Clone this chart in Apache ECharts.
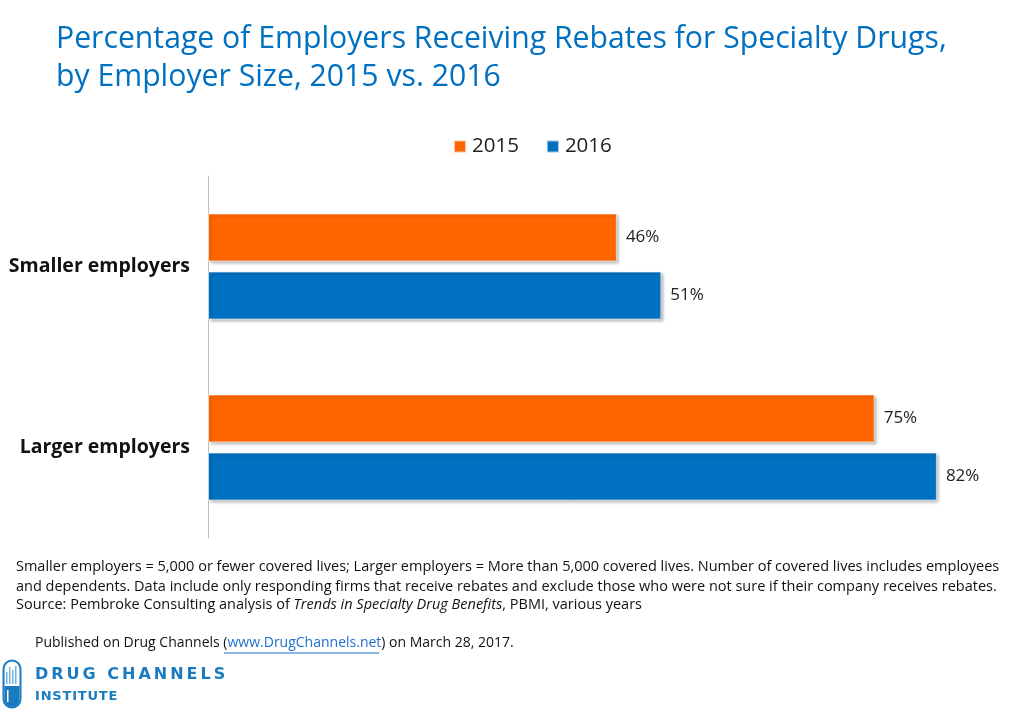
<!DOCTYPE html>
<html>
<head>
<meta charset="utf-8">
<script src="https://cdn.jsdelivr.net/npm/echarts@6/dist/echarts.min.js"></script>
<style>
html,body{margin:0;padding:0;background:#fff;}
#main{width:1024px;height:709px;}
</style>
</head>
<body>
<div id="main"></div>
<script>
const categories = ['Smaller employers', 'Larger employers'];
const seriesNames = ['2015', '2016'];
const values2015 = [46, 75];
const values2016 = [51, 82];
const seriesColors = ['#FF6600', '#0070C0'];

const FONT = 'Open Sans';
const LOGO_BLUE = '#1A7BC0';
const chart = echarts.init(document.getElementById('main'), null, {renderer: 'canvas'});

// letter-spaced logo text, positions from measured glyph widths
const measureCtx = document.createElement('canvas').getContext('2d');
function spacedText(str, x, y, size, spacing) {
  const font = 'bold ' + size + 'px "DejaVu Sans"';
  measureCtx.font = font;
  const out = [];
  let cx = x;
  for (const ch of str) {
    out.push({
      type: 'text', x: cx, y: y,
      style: {text: ch, fontFamily: 'DejaVu Sans', fontWeight: 'bold', fontSize: size, fill: LOGO_BLUE}
    });
    cx += measureCtx.measureText(ch).width + spacing;
  }
  return out;
}

function barSeries(name, data, color) {
  return {
    name: name,
    type: 'bar',
    data: data,
    barWidth: 48,
    barGap: '21%',
    itemStyle: {
      color: color,
      borderColor: 'rgba(255,255,255,0.6)',
      borderWidth: 1,
      shadowColor: 'rgba(0,0,0,0.35)',
      shadowBlur: 3,
      shadowOffsetX: 2,
      shadowOffsetY: 2
    },
    label: {
      show: true,
      position: 'right',
      distance: 9,
      formatter: '{c}%',
      color: '#222',
      fontFamily: FONT,
      fontSize: 17
    },
    emphasis: {disabled: true}
  };
}

chart.setOption({
  animation: false,
  backgroundColor: '#fff',
  title: {
    text: 'Percentage of Employers Receiving Rebates for Specialty Drugs,\nby Employer Size, 2015 vs. 2016',
    left: 51,
    top: 15,
    textStyle: {
      color: '#0070C0',
      fontFamily: FONT,
      fontWeight: 'normal',
      fontSize: 30.2,
      lineHeight: 38
    }
  },
  legend: {
    data: seriesNames,
    top: 131,
    left: 448,
    itemWidth: 12,
    itemHeight: 12,
    itemGap: 27,
    icon: 'rect',
    textStyle: {fontFamily: FONT, fontSize: 20.5, color: '#222', padding: [0, 0, 0, 1]}
  },
  grid: {
    left: 208,
    right: 16,
    top: 176,
    bottom: 171,
    containLabel: false
  },
  xAxis: {
    type: 'value',
    min: 0,
    max: 90,
    show: false
  },
  yAxis: {
    type: 'category',
    data: categories,
    inverse: true,
    axisLine: {show: true, lineStyle: {color: '#BFBFBF', width: 1}},
    axisTick: {show: false},
    axisLabel: {
      fontFamily: FONT,
      fontWeight: 'bold',
      fontSize: 19.5,
      color: '#111',
      margin: 18
    }
  },
  series: [
    barSeries(seriesNames[0], values2015, seriesColors[0]),
    barSeries(seriesNames[1], values2016, seriesColors[1])
  ],
  graphic: [
    {
      type: 'text',
      left: 16,
      top: 557,
      style: {
        text: 'Smaller employers = 5,000 or fewer covered lives; Larger employers = More than 5,000 covered lives. Number of covered lives includes employees\nand dependents. Data include only responding firms that receive rebates and exclude those who were not sure if their company receives rebates.',
        fontFamily: FONT,
        fontSize: 14.5,
        lineHeight: 20,
        fill: '#111'
      }
    },
    {
      type: 'text',
      left: 16,
      top: 597,
      style: {
        text: '{a|Source: Pembroke Consulting analysis of }{i|Trends in Specialty Drug Benefits}{a|, PBMI, various years}',
        rich: {
          a: {fontFamily: FONT, fontSize: 14.5, fill: '#111'},
          i: {fontFamily: FONT, fontSize: 14.5, fontStyle: 'italic', fill: '#111'}
        }
      }
    },
    {
      type: 'text',
      left: 35,
      top: 636,
      style: {
        text: '{a|Published on Drug Channels (}{l|www.DrugChannels.net}{a|) on March 28, 2017.}',
        rich: {
          a: {fontFamily: FONT, fontSize: 14, fill: '#111'},
          l: {fontFamily: FONT, fontSize: 14, fill: '#1F6FD0', textBorderWidth: 0}
        }
      }
    },
    {
      type: 'line',
      shape: {x1: 224, y1: 653, x2: 379, y2: 653},
      style: {stroke: '#1F6FD0', lineWidth: 1}
    },
    // logo pill
    {
      type: 'rect',
      shape: {x: 3.5, y: 660.5, width: 17, height: 47, r: 8.5},
      style: {fill: '#fff', stroke: LOGO_BLUE, lineWidth: 2}
    },
    {
      type: 'rect',
      shape: {x: 4.5, y: 686, width: 15, height: 21, r: [0, 0, 7.5, 7.5]},
      style: {fill: LOGO_BLUE}
    },
    {
      type: 'group',
      children: [
        {type: 'rect', shape: {x: 6, y: 672, width: 1.5, height: 12}, style: {fill: '#6FB3E3'}},
        {type: 'rect', shape: {x: 9, y: 667, width: 1.5, height: 17}, style: {fill: '#6FB3E3'}},
        {type: 'rect', shape: {x: 12, y: 670, width: 1.5, height: 14}, style: {fill: '#6FB3E3'}},
        {type: 'rect', shape: {x: 15, y: 666, width: 1.5, height: 18}, style: {fill: '#6FB3E3'}},
        {type: 'rect', shape: {x: 7, y: 690, width: 1.5, height: 12}, style: {fill: '#fff'}}
      ]
    },
    {
      type: 'group',
      children: spacedText('DRUG CHANNELS', 35, 667, 16, 3.0)
    },
    {
      type: 'group',
      children: spacedText('INSTITUTE', 35, 690, 13, 0.8)
    }
  ]
});
</script>
</body>
</html>
